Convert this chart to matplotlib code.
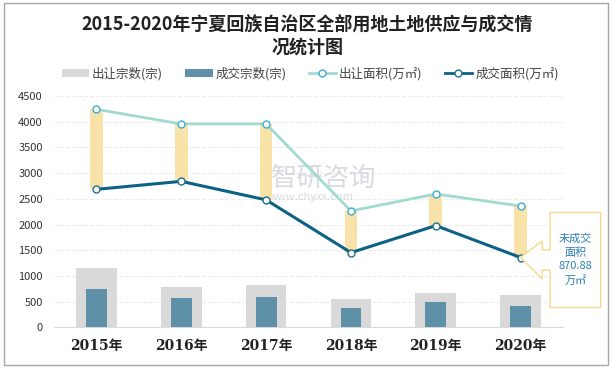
import numpy as np
import matplotlib
matplotlib.use("Agg")
import matplotlib.pyplot as plt
from matplotlib.patches import Rectangle, Polygon, Patch
from matplotlib.lines import Line2D

plt.rcParams['font.family'] = ['Noto Sans CJK SC', 'DejaVu Sans']

# ---- data ----
years = ['2015年', '2016年', '2017年', '2018年', '2019年', '2020年']
supply_cnt = [1157, 787, 826, 554, 671, 632]       # 出让宗数(宗)
deal_cnt = [748, 573, 593, 379, 496, 418]          # 成交宗数(宗)
supply_area = [4240, 3955, 3955, 2265, 2595, 2360]  # 出让面积(万㎡)
deal_area = [2685, 2840, 2480, 1455, 1980, 1360]    # 成交面积(万㎡)
unsold_label = '未成交\n面积\n870.88\n万㎡'

x = np.arange(len(years))

fig = plt.figure(figsize=(6.14, 3.69), dpi=100)
ax = fig.add_axes([0.088, 0.1125, 0.829, 0.6275])

# bars
ax.bar(x, supply_cnt, width=0.48, color='#D9D9D9', zorder=2)
ax.bar(x, deal_cnt, width=0.245, color='#5E91A8', zorder=3)

# floating bars between the two area lines
lo = np.minimum(supply_area, deal_area)
hi = np.maximum(supply_area, deal_area)
ax.bar(x, hi - lo, bottom=lo, width=0.15, color='#F8E2A8', zorder=3)

# lines
ax.plot(x, supply_area, color='#A3D9D3', lw=2.0, zorder=4,
        marker='o', ms=5, mfc='white', mec='#3AAED6', mew=1.0)
ax.plot(x, deal_area, color='#0C6284', lw=2.2, zorder=5,
        marker='o', ms=5, mfc='white', mec='#1D7191', mew=1.0)

ax.set_xlim(-0.5, len(years) - 0.5)
ax.set_ylim(0, 4500)
ax.set_yticks(np.arange(0, 4501, 500))
ax.yaxis.grid(True, color='#ECECEC', ls='--', lw=0.8, zorder=0)
ax.set_axisbelow(True)
for s in ['top', 'right', 'left']:
    ax.spines[s].set_visible(False)
ax.spines['bottom'].set_color('#D9D9D9')
ax.tick_params(axis='both', length=0)
ax.tick_params(axis='y', labelsize=8, colors='#333333', pad=8)
ax.set_xticks(x)
ax.set_xticklabels(years, fontsize=10, fontweight='bold', color='#222222',
                   family=['DejaVu Serif', 'Noto Sans CJK SC'])
ax.tick_params(axis='x', pad=8)

# callout for 2020 (offsets in pixels from the last 成交 point)
px, py = ax.transData.transform((x[-1], deal_area[-1]))
pts = [(0, 0), (21.5, 16.5), (21.5, 7.5), (29.5, 7.5), (29.5, 45), (80, 45),
       (80, -50), (29.5, -50), (29.5, -12.5), (21.5, -12.5), (21.5, -21.5)]
verts = [(px + a, py + b) for a, b in pts]
poly = Polygon(verts, closed=True, transform=None, facecolor='white',
               edgecolor='#F7D98E', lw=1.0, zorder=6, clip_on=False)
fig.patches.append(poly)
cx, cy = fig.transFigure.inverted().transform((px + 55, py - 2))
fig.text(cx, cy, unsold_label, ha='center', va='center', fontsize=8,
         color='#2B7FB0', linespacing=1.45, zorder=7)

# watermark
ax.text(0.53, 0.646, '智研咨询', transform=ax.transAxes, fontsize=19,
        color='#B8BEC8', alpha=0.55, ha='center', va='center', zorder=1)
ax.text(0.505, 0.564, 'www.chyxx.com', transform=ax.transAxes, fontsize=8,
        color='#B8BEC8', alpha=0.55, ha='center', va='center', zorder=1)

# title
fig.text(0.5, 0.935, '2015-2020年宁夏回族自治区全部用地土地供应与成交情',
         ha='center', va='center', fontsize=13, fontweight='bold', color='#222222')
fig.text(0.5, 0.873, '况统计图', ha='center', va='center', fontsize=13,
         fontweight='bold', color='#222222')

# legend
handles = [
    Patch(facecolor='#D9D9D9', edgecolor='none'),
    Patch(facecolor='#5E91A8', edgecolor='none'),
    Line2D([], [], color='#A3D9D3', lw=2, marker='o', ms=5, mfc='white', mec='#3AAED6'),
    Line2D([], [], color='#0C6284', lw=2, marker='o', ms=5, mfc='white', mec='#1D7191'),
]
labels = ['出让宗数(宗)', '成交宗数(宗)', '出让面积(万㎡)', '成交面积(万㎡)']
fig.legend(handles, labels, loc='center', bbox_to_anchor=(0.505, 0.8), ncol=4,
           frameon=False, fontsize=9, handlelength=2.2, handleheight=0.6,
           columnspacing=1.75, handletextpad=0.25, labelcolor='#444444')

# figure border
fig.patches.append(Rectangle((4 / 614, 4 / 369), 604 / 614, 362 / 369,
                             transform=fig.transFigure, fill=False,
                             edgecolor='#A6A6A6', lw=1.0))

fig.savefig('out.png', dpi=100)
